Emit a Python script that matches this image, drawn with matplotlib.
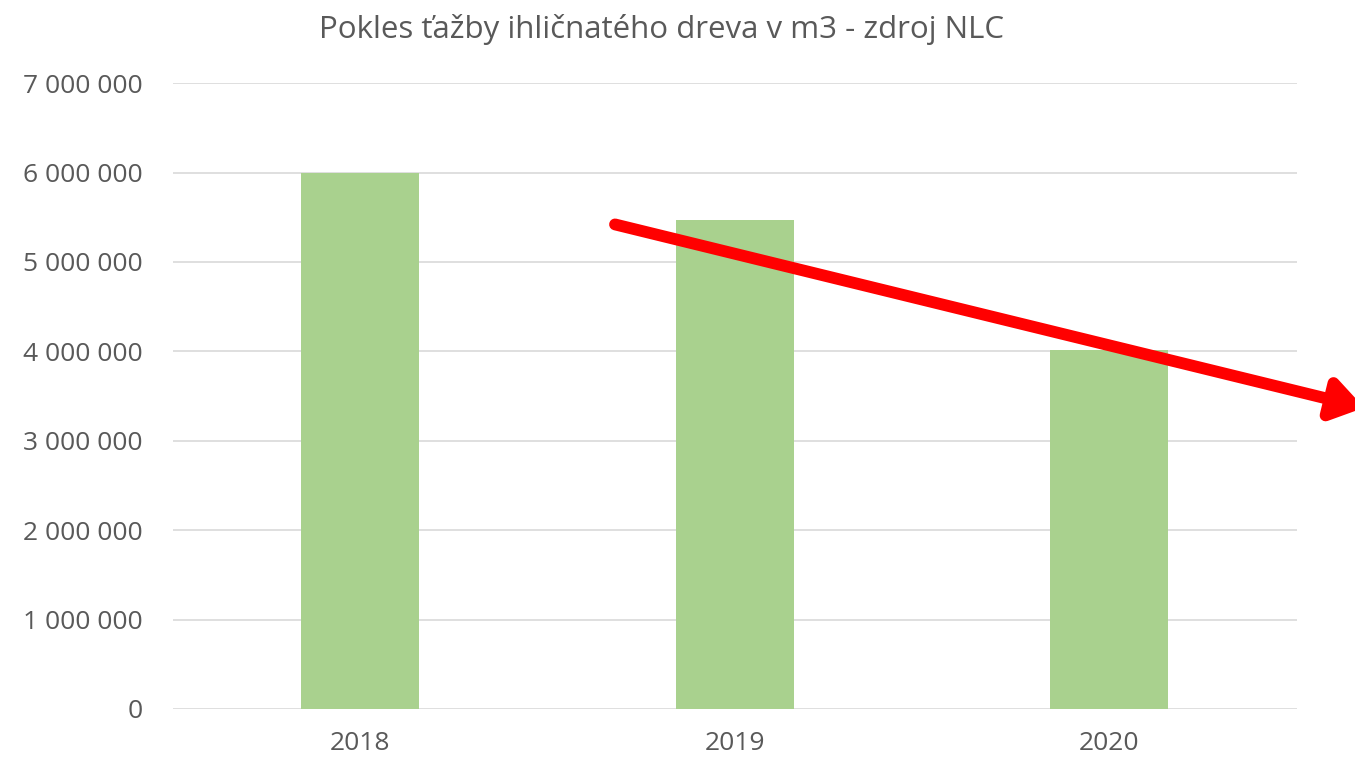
import matplotlib
matplotlib.use("Agg")
import matplotlib.pyplot as plt
from matplotlib.ticker import FuncFormatter

years = ["2018", "2019", "2020"]
values = [6000000, 5470000, 4010000]
title = "Pokles ťažby ihličnatého dreva v m3 - zdroj NLC"

plt.rcParams['font.family'] = ['Open Sans', 'DejaVu Sans']

fig = plt.figure(figsize=(13.55, 7.63), dpi=100)
ax = fig.add_axes([0.1277, 0.0708, 0.8293, 0.8202])

x = list(range(len(years)))
ax.bar(x, values, width=0.315, color="#a9d18e", zorder=2)

ax.set_xlim(-0.5, 2.5)
ax.set_ylim(0, 7000000)
ax.set_yticks(range(0, 7000001, 1000000))
ax.yaxis.set_major_formatter(FuncFormatter(lambda v, p: f"{int(v):,}".replace(",", " ")))
ax.set_xticks(x)
ax.set_xticklabels(years)
ax.grid(axis="y", color="#d9d9d9", linewidth=1.2, zorder=0)
for s in ax.spines.values():
    s.set_visible(False)
ax.tick_params(axis="both", length=0, labelsize=19, colors="#595959")
ax.tick_params(axis="y", pad=22)
ax.tick_params(axis="x", pad=16)

fig.text(0.488, 0.961, title, ha="center", va="center", fontsize=22.5, color="#595959")

ax.annotate("", xy=(2.68, 3370000), xytext=(0.68, 5420000),
            xycoords="data", textcoords="data", annotation_clip=False,
            arrowprops=dict(arrowstyle="-|>,head_length=1.8,head_width=1.2",
                            color="#ff0000", lw=8.5, shrinkA=0, shrinkB=0),
            zorder=5)

fig.savefig("out.png", dpi=100)
